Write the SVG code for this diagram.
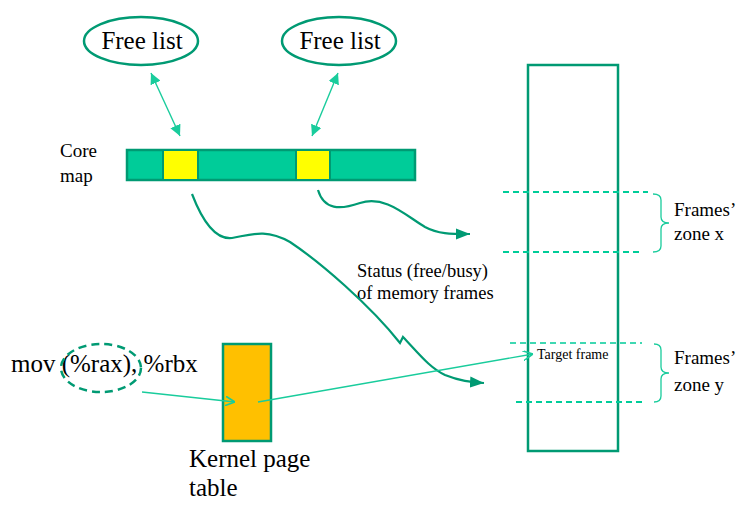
<svg xmlns="http://www.w3.org/2000/svg" width="747" height="507" viewBox="0 0 747 507">
<style>
  text { font-family: "Liberation Serif", "Times New Roman", "DejaVu Serif", serif; fill: #000; }
  .lbl { font-size: 25px; }
  .mid { font-size: 19px; }
  .st { font-size: 18.5px; }
  .sm { font-size: 14px; }
  .thin { stroke: #19CC9C; fill: none; stroke-width: 1.4; }
  .zone { stroke: #00CC99; fill: none; stroke-width: 2; stroke-dasharray: 6 4; }
  .curve { stroke: #009A73; fill: none; stroke-width: 2.2; }
</style>
<defs>
  <marker id="tri" viewBox="0 0 10 10" refX="10" refY="5" markerWidth="11" markerHeight="11" orient="auto-start-reverse" markerUnits="userSpaceOnUse">
    <path d="M0,0 L10,5 L0,10 z" fill="#19CC9C"/>
  </marker>
  <marker id="big" viewBox="0 0 10 10" refX="10" refY="5" markerWidth="14" markerHeight="14" orient="auto" markerUnits="userSpaceOnUse">
    <path d="M0,1 L10,5 L0,9 z" fill="#009A73"/>
  </marker>
  <marker id="open" viewBox="0 0 10 10" refX="10" refY="5" markerWidth="10" markerHeight="10" orient="auto" markerUnits="userSpaceOnUse">
    <path d="M0,0 L10,5 L0,10" fill="none" stroke="#19CC9C" stroke-width="1.6"/>
  </marker>
</defs>

<g id="freelist1">
  <ellipse cx="141" cy="41" rx="57" ry="24" fill="#fff" stroke="#009A73" stroke-width="2.5"/>
  <text class="lbl" x="142" y="49" text-anchor="middle">Free list</text>
</g>
<g id="freelist2">
  <ellipse cx="339" cy="41" rx="57" ry="24" fill="#fff" stroke="#009A73" stroke-width="2.5"/>
  <text class="lbl" x="340" y="49" text-anchor="middle">Free list</text>
</g>

<g id="coremap">
  <rect x="127" y="150" width="288" height="30" fill="#00CC99" stroke="#009A73" stroke-width="2.5"/>
  <rect x="163" y="150" width="35" height="30" fill="#FFFF00" stroke="#009A73" stroke-width="2"/>
  <rect x="296" y="150" width="34" height="30" fill="#FFFF00" stroke="#009A73" stroke-width="2"/>
  <text class="mid" x="60" y="157">Core</text>
  <text class="mid" x="60" y="182">map</text>
</g>

<g id="instruction">
  <text class="lbl" x="11" y="372">mov (%rax), %rbx</text>
  <ellipse cx="101" cy="368" rx="40" ry="24" fill="none" stroke="#009A73" stroke-width="2.5" stroke-dasharray="8 5"/>
</g>

<g id="kernelpagetable">
  <rect x="223" y="344" width="48" height="97" fill="#FFC000" stroke="#009A73" stroke-width="2.5"/>
  <text class="lbl" x="189" y="467">Kernel page</text>
  <text class="lbl" x="189" y="496">table</text>
</g>

<g id="memory">
  <rect x="528" y="65" width="90" height="386" fill="none" stroke="#009A73" stroke-width="2.5"/>
</g>

<g id="zonex">
  <line class="zone" x1="503" y1="192" x2="648" y2="192"/>
  <line class="zone" x1="503" y1="252" x2="640" y2="252"/>
  <path d="M653,194 Q661,194 661,200 L661,217 Q661,223 669,223 Q661,223 661,229 L661,246 Q661,252 653,252" fill="none" stroke="#19CC9C" stroke-width="1.3"/>
  <text class="mid" x="674" y="216">Frames’</text>
  <text class="mid" x="674" y="240">zone x</text>
</g>

<g id="zoney">
  <line x1="510" y1="343" x2="642" y2="343" stroke="#00CC99" stroke-width="1.3" stroke-dasharray="6 4"/>
  <line class="zone" x1="516" y1="402" x2="642" y2="402"/>
  <path d="M654,344 Q661,344 661,350 L661,367 Q661,373 669,373 Q661,373 661,379 L661,396 Q661,402 654,402" fill="none" stroke="#19CC9C" stroke-width="1.3"/>
  <text class="mid" x="674" y="364">Frames’</text>
  <text class="mid" x="674" y="391">zone y</text>
  <text class="sm" x="537" y="359">Target frame</text>
</g>

<g id="status">
  <text class="st" x="357" y="277">Status (free/busy)</text>
  <text class="st" x="357" y="299">of memory frames</text>
</g>

<g id="connectors">
  <line class="thin" x1="151" y1="73" x2="180" y2="136" marker-start="url(#tri)" marker-end="url(#tri)"/>
  <line class="thin" x1="338" y1="73" x2="312" y2="136" marker-start="url(#tri)" marker-end="url(#tri)"/>
  <path class="curve" d="M318,190 C324,210 340,210 360,203 C385,195 405,215 425,227 C438,234 450,234 470,234" marker-end="url(#big)"/>
  <path class="curve" d="M192,194 C202,220 215,240 232,238 C250,235 265,228 290,242 C320,262 370,305 400,343 L403,337 C420,355 430,368 445,375 C460,381 470,382 484,383" marker-end="url(#big)"/>
  <line class="thin" x1="142" y1="392" x2="235" y2="402" marker-end="url(#open)"/>
  <line class="thin" x1="258" y1="402" x2="533" y2="354" marker-end="url(#open)"/>
</g>
</svg>
